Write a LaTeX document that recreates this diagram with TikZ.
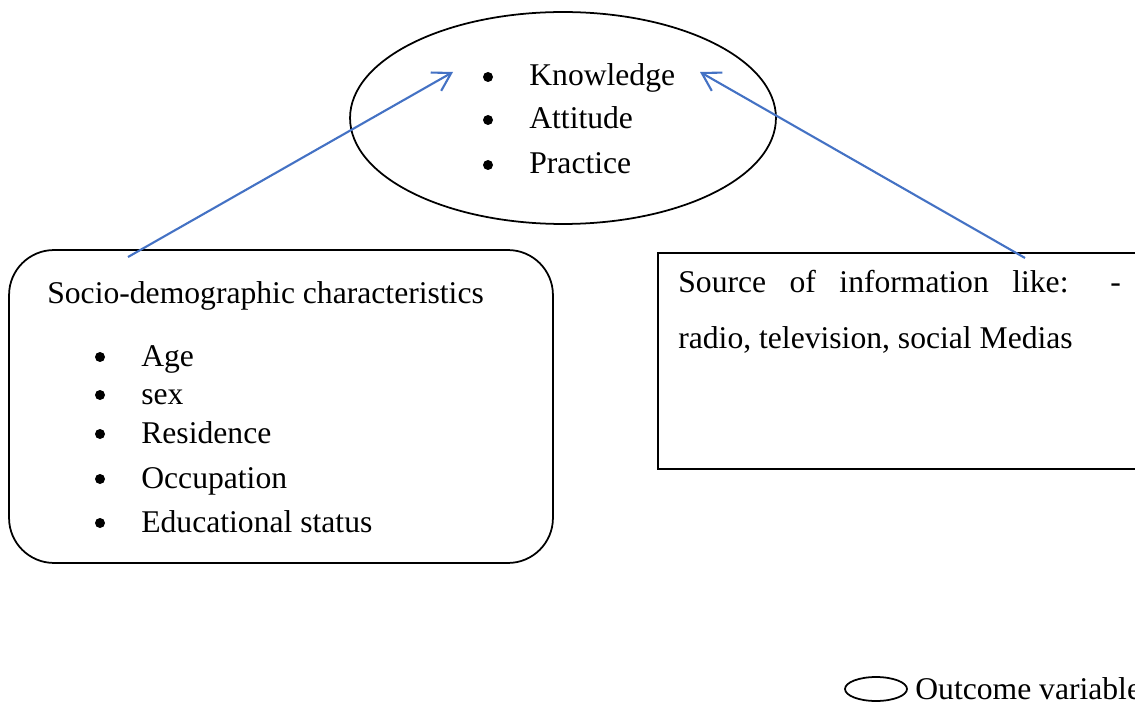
\documentclass[tikz,border=0pt]{standalone}
\usepackage{fontspec}
\setmainfont{Liberation Serif}
\usetikzlibrary{shapes.geometric,arrows.meta}
\definecolor{wordblue}{RGB}{68,114,196}
\tikzset{
    txt/.style={anchor=base west, inner sep=0pt, font=\fontsize{18}{22}\selectfont},
    bul/.style={circle, fill, inner sep=0pt, minimum size=0.2cm},
    frame/.style={draw, line width=1pt},
    link/.style={draw=wordblue, line width=1.2pt, -{Straight Barb[length=10pt,width=12pt]}},
}
\begin{document}
\begin{tikzpicture}[x=0.02cm, y=-0.02cm]
\useasboundingbox (0,0) rectangle (1135,702);
\clip (0,0) rectangle (1135,702);

% outcome
\node[frame, ellipse, minimum width=8.52cm, minimum height=4.24cm] (kap) at (563,118) {};
\foreach \y/\t [count=\i] in {86/Knowledge,129/Attitude,174/Practice}{
    \node[bul] (kapb\i) at (488,\y-9) {};
    \node[txt] (kapt\i) at (529,\y) {\t};
}

% socio-demographic factors
\node[frame, rounded corners=0.9cm, minimum width=10.88cm, minimum height=6.26cm] (socio) at (281,406.5) {};
\node[txt] (sociot) at (47,304) {Socio-demographic characteristics};
\foreach \y/\t [count=\i] in {366/Age,404/sex,443/Residence,488/Occupation,532/Educational status}{
    \node[bul] (sociob\i) at (100,\y-9) {};
    \node[txt] (sociot\i) at (141,\y) {\t};
}

% source of information
\node[frame, anchor=north west, minimum width=10cm, minimum height=4.32cm] (src) at (657,252) {};
\node[txt] (srct1) at (678,293) {\makebox[8.85cm][s]{Source of information like: -}};
\node[txt] (srct2) at (678,348) {radio, television, social Medias};

% arrows
\coordinate (sociotop) at (128,257);
\coordinate (kapL) at (453,72);
\coordinate (srctop) at (1025,258);
\coordinate (kapR) at (700,72);
\draw[link] (sociotop) -- (kapL);
\draw[link] (srctop) -- (kapR);

% legend
\node[frame, ellipse, inner sep=0pt, minimum width=1.24cm, minimum height=0.48cm] (leg) at (876,689) {};
\node[txt] (legt) at (915,699) {Outcome variable};
\end{tikzpicture}
\end{document}
